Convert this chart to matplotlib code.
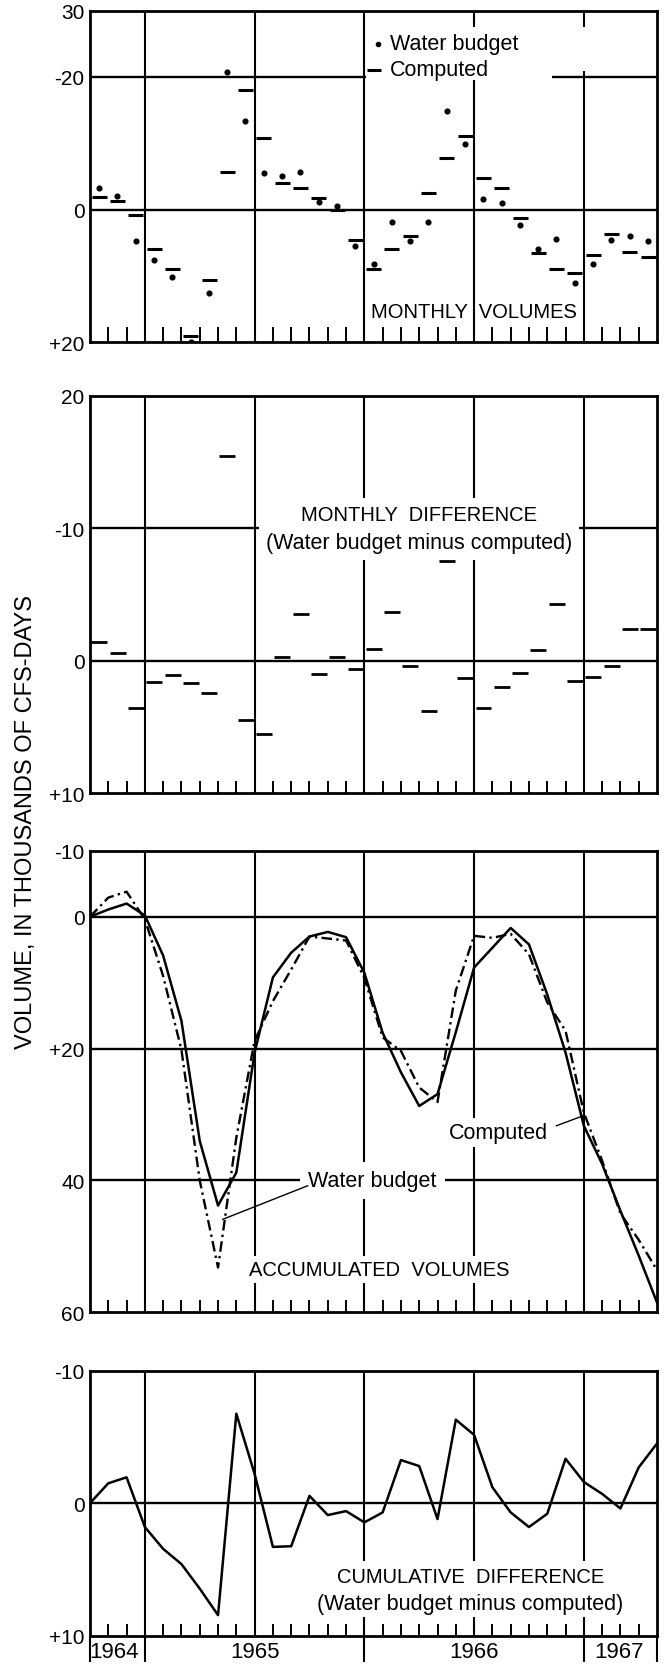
import matplotlib.pyplot as plt
from matplotlib.patches import Rectangle
from matplotlib.transforms import blended_transform_factory

plt.rcParams['font.family'] = ['Liberation Sans', 'DejaVu Sans']

# monthly volumes, thousands of cfs-days (negative values plot upward)
water_budget = [-3.3, -2.05, 4.7, 7.6, 10.2, 19.9, 12.6, -20.7, -13.3, -5.6,
                -5.0, -5.7, -1.2, -0.5, 5.5, 8.2, 1.9, 4.8, 1.8, -14.85,
                -9.9, -1.6, -1.0, 2.3, 6.0, 4.4, 11.0, 8.2, 4.5, 4.0, 4.7]
computed = [-1.9, -1.25, 0.75, 6.0, 8.9, 19.05, 10.6, -5.75, -18.1, -10.8,
            -3.95, -3.25, -1.7, 0.05, 4.6, 8.9, 5.9, 4.0, -2.5, -7.8,
            -11.1, -4.8, -3.2, 1.2, 6.55, 8.9, 9.6, 6.8, 3.6, 6.4, 7.1]
monthly_diff = [-1.45, -0.6, 3.55, 1.6, 1.1, 1.7, 2.45, -15.45, 4.5, 5.55,
                -0.3, -3.5, 1.0, -0.3, 0.6, -0.9, -3.7, 0.4, 3.75, -7.5,
                1.3, 3.55, 2.0, 0.9, -0.8, -4.3, 1.55, 1.2, 0.4, -2.4, -2.4]

# accumulated volumes at the month boundaries
acc_water_budget = [0, -2.9, -3.8, 0.4, 9.0, 20.2, 40.0, 53.2, 33.5, 18.8,
                    12.8, 8.0, 3.0, 3.3, 3.6, 9.3, 18.3, 20.35, 25.9, 28.1,
                    11.2, 2.9, 3.2, 2.6, 5.7, 13.0, 17.3, 29.7, 37.0, 45.0,
                    49.0, 53.6]
acc_computed = [0, -1.1, -2.0, -0.2, 5.9, 15.8, 34.0, 43.8, 38.8, 20.6,
                9.2, 5.45, 3.0, 2.3, 3.1, 8.5, 17.6, 23.6, 28.7, 26.9,
                17.5, 7.7, 4.7, 1.7, 4.2, 11.8, 20.6, 31.7, 37.5, 44.6,
                51.4, 58.5]
cum_diff = [0, -1.5, -1.95, 1.8, 3.45, 4.6, 6.45, 8.45, -6.75, -2.2,
            3.3, 3.25, -0.55, 0.9, 0.6, 1.45, 0.7, -3.25, -2.8, 1.2,
            -6.3, -5.15, -1.2, 0.7, 1.8, 0.8, -3.35, -1.6, -0.7, 0.4,
            -2.7, -4.5]

year_labels = ['1964', '1965', '1966', '1967']
year_label_x = [1.3, 9, 21, 28.9]
year_lines = [3, 9, 15, 21, 27]
n_months = 31
months = list(range(n_months))
bounds = list(range(n_months + 1))

CAPS = 14.5   # upper-case captions
MIXED = 15.5  # mixed-case captions
white = dict(facecolor='white', edgecolor='none')


def frame(ax, ylim, yticks, ylabels, hlines, tick_len):
    ax.set_xlim(0, n_months)
    ax.set_ylim(ylim)
    ax.set_yticks(yticks)
    ax.set_yticklabels(ylabels)
    ax.tick_params(axis='y', length=0, pad=4, labelsize=15)
    ax.set_xticks(range(1, n_months))
    ax.set_xticklabels([])
    ax.tick_params(axis='x', direction='in', length=tick_len, width=1.4)
    for s in ax.spines.values():
        s.set_linewidth(2)
    for x in year_lines:
        ax.axvline(x, color='black', lw=1.5, zorder=1)
    for y in hlines:
        ax.axhline(y, color='black', lw=1.7, zorder=1)


fig = plt.figure(figsize=(6.72, 16.65), dpi=100)
L, W = 90 / 672, 567 / 672
ax1 = fig.add_axes([L, 0.7938, W, 0.1992])
ax2 = fig.add_axes([L, 0.5229, W, 0.2388])
ax3 = fig.add_axes([L, 0.2112, W, 0.2772])
ax4 = fig.add_axes([L, 0.0170, W, 0.1592])

# monthly volumes
frame(ax1, (20, -30), [-30, -20, 0, 20], ['30', '-20', '0', '+20'], [-20, 0], 11)
ax1.hlines(computed, [m + 0.1 for m in months], [m + 0.92 for m in months],
           color='black', lw=2.2, zorder=4)
ax1.plot([m + 0.5 for m in months], water_budget, 'o', color='black', ms=3.4, zorder=4)
ax1.add_patch(Rectangle((15.08, -27.5), 10.2, 8.0, zorder=2, **white))
ax1.add_patch(Rectangle((26.8, -27.5), 0.4, 6.6, zorder=2, **white))
ax1.plot([15.75], [-25], 'o', color='black', ms=3.0, zorder=4)
ax1.hlines(-21, 15.15, 15.9, color='black', lw=2.2, zorder=4)
ax1.text(16.4, -25, 'Water budget', fontsize=MIXED, va='center', ha='left', zorder=4)
ax1.text(16.4, -21.2, 'Computed', fontsize=MIXED, va='center', ha='left', zorder=4)
ax1.text(21, 15.4, 'MONTHLY  VOLUMES', fontsize=CAPS, va='center', ha='center', zorder=4)

# monthly difference
frame(ax2, (10, -20), [-20, -10, 0, 10], ['20', '-10', '0', '+10'], [-10, 0], 9)
ax2.hlines(monthly_diff, [m + 0.08 for m in months], [m + 0.95 for m in months],
           color='black', lw=2.0, zorder=4)
ax2.text(18, -8.95, '(Water budget minus computed)', fontsize=MIXED, va='center',
         ha='center', zorder=3, bbox=dict(pad=5, **white))
ax2.text(18, -11.07, 'MONTHLY  DIFFERENCE', fontsize=CAPS, va='center', ha='center',
         zorder=3, bbox=dict(pad=5, **white))

# accumulated volumes
frame(ax3, (60, -10), [-10, 0, 20, 40, 60], ['-10', '0', '+20', '40', '60'],
      [0, 20, 40], 8.5)
ax3.plot(bounds, acc_computed, color='black', lw=1.8, zorder=4)
ax3.plot(bounds, acc_water_budget, color='black', lw=1.7, zorder=4,
         linestyle=(0, (4.5, 1.8, 1.0, 1.8)))
ax3.text(15.45, 40, 'Water budget', fontsize=MIXED, va='center', ha='center', zorder=3,
         bbox=dict(pad=6, **white))
ax3.text(22.35, 32.7, 'Computed', fontsize=MIXED, va='center', ha='center', zorder=3,
         bbox=dict(pad=3, **white))
ax3.text(15.8, 53.5, 'ACCUMULATED  VOLUMES', fontsize=CAPS, va='center', ha='center',
         zorder=3, bbox=dict(pad=3, **white))
ax3.plot([11.9, 7.25], [40.8, 45.9], color='black', lw=1.0, zorder=5)
ax3.plot([25.5, 26.95], [31.7, 30.2], color='black', lw=1.0, zorder=5)

# cumulative difference
frame(ax4, (10, -10), [-10, 0, 10], ['-10', '0', '+10'], [0], 8.5)
ax4.plot(bounds, cum_diff, color='black', lw=1.8, zorder=4)
ax4.text(20.8, 7.6, '(Water budget minus computed)', fontsize=MIXED, va='center',
         ha='center', zorder=3, bbox=dict(pad=2, **white))
ax4.text(20.8, 5.57, 'CUMULATIVE  DIFFERENCE', fontsize=CAPS, va='center', ha='center',
         zorder=3, bbox=dict(pad=5, **white))
ax4.xaxis.remove_overlapping_locs = False
ax4.set_xticks([0, 3, 15, 27, 31], minor=True)
ax4.tick_params(axis='x', which='minor', direction='out', length=19, width=1.5)
tr = blended_transform_factory(ax4.transData, ax4.transAxes)
for lab, x in zip(year_labels, year_label_x):
    ax4.text(x, -0.058, lab, transform=tr, fontsize=16, ha='center', va='center')

fig.text(26 / 672, 1 - 822 / 1665, 'VOLUME, IN THOUSANDS OF CFS-DAYS', rotation=90,
         ha='center', va='center', fontsize=17)

fig.savefig('out.png', dpi=100)
